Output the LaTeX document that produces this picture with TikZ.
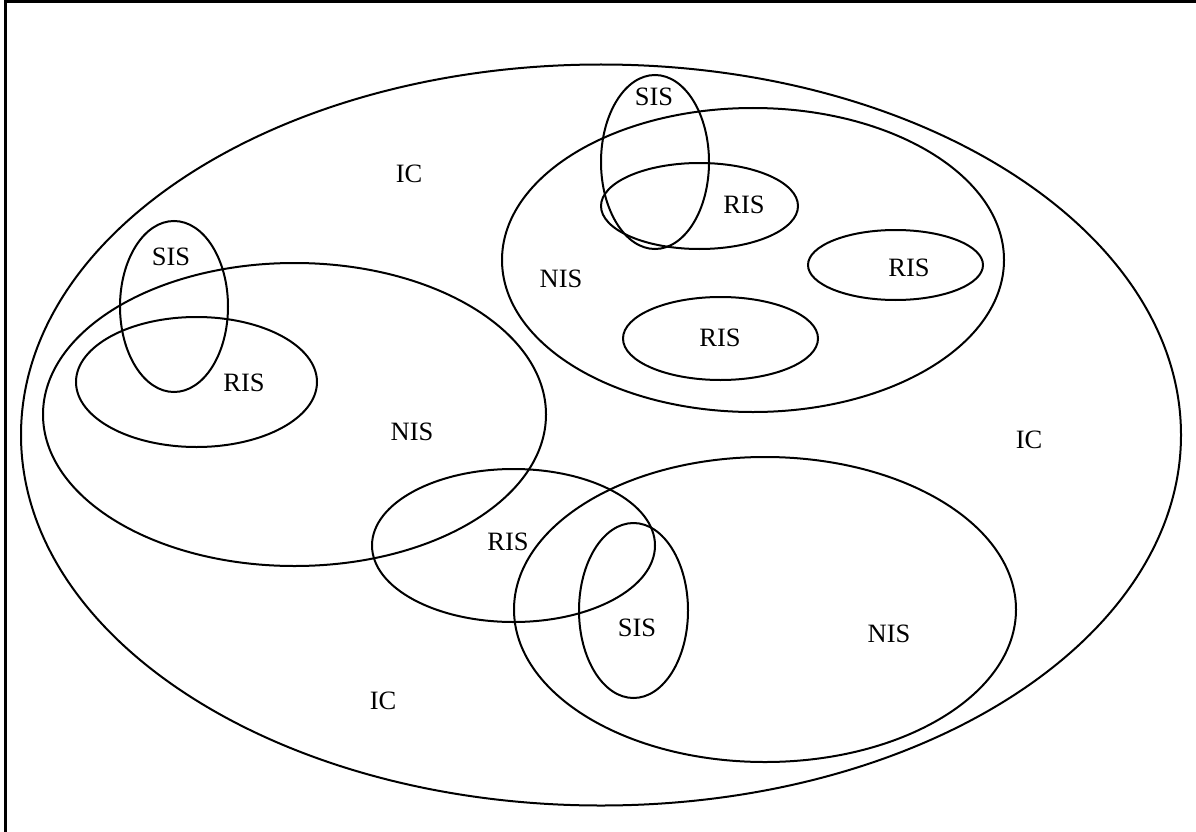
\documentclass[tikz,border=0pt]{standalone}
\usepackage{fontspec}
\setmainfont{Liberation Serif}
\usetikzlibrary{shapes.geometric}
\tikzset{
  set/.style={draw, ellipse, line width=2pt, inner sep=0pt},
  lbl/.style={font=\fontsize{26.5}{30}\selectfont, inner sep=0pt}
}
\begin{document}
\begin{tikzpicture}[x=1pt,y=-1pt]
\useasboundingbox (0,0) rectangle (1196,832);
\draw[line width=3pt] (5,832) -- (5,2) -- (1196,2);
% universe
\node[set, minimum width=1160pt, minimum height=741pt] (ic) at (601,435) {};
% NIS sets
\node[set, minimum width=503pt, minimum height=303pt] (nisL) at (294.5,414.5) {};
\node[set, minimum width=502pt, minimum height=304pt] (nisT) at (753,260) {};
\node[set, minimum width=502pt, minimum height=305pt] (nisB) at (765,609.5) {};
% RIS sets
\node[set, minimum width=241pt, minimum height=130pt] (risL) at (196.5,382) {};
\node[set, minimum width=197pt, minimum height=86pt] (risT) at (699.5,206) {};
\node[set, minimum width=175pt, minimum height=70pt] (risR) at (895.5,265) {};
\node[set, minimum width=195pt, minimum height=83pt] (risM) at (720.5,338.5) {};
\node[set, minimum width=283pt, minimum height=153pt] (risB) at (513.5,545.5) {};
% SIS sets
\node[set, minimum width=108pt, minimum height=171pt] (sisL) at (174,306.5) {};
\node[set, minimum width=108pt, minimum height=174pt] (sisT) at (655,162) {};
\node[set, minimum width=109pt, minimum height=175pt] (sisB) at (633.5,610.5) {};
% labels
\node[lbl] (t1) at (409,174) {IC};
\node[lbl] (t2) at (1029,440) {IC};
\node[lbl] (t3) at (383,701) {IC};
\node[lbl] (t4) at (561,279) {NIS};
\node[lbl] (t5) at (412,432) {NIS};
\node[lbl] (t6) at (889,634) {NIS};
\node[lbl] (t7) at (744,205) {RIS};
\node[lbl] (t8) at (909,268) {RIS};
\node[lbl] (t9) at (720,338) {RIS};
\node[lbl] (t10) at (244,383) {RIS};
\node[lbl] (t11) at (508,542) {RIS};
\node[lbl] (t12) at (654,97) {SIS};
\node[lbl] (t13) at (171,257) {SIS};
\node[lbl] (t14) at (637,628) {SIS};
\end{tikzpicture}
\end{document}
